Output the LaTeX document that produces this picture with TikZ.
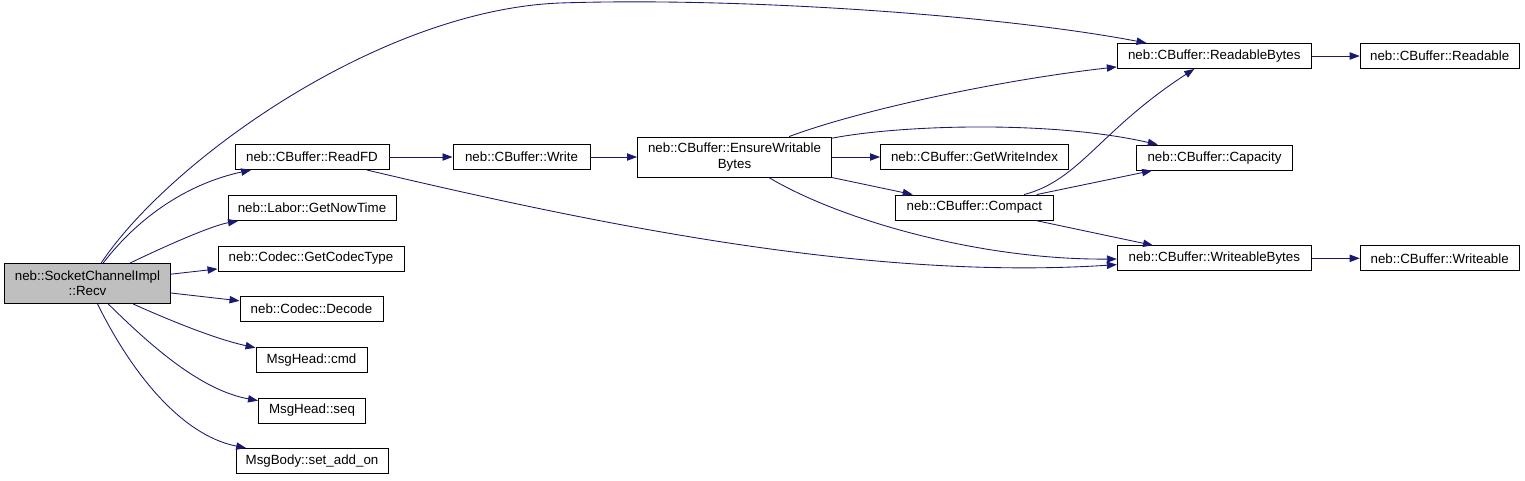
\documentclass[tikz,border=0pt]{standalone}
\usepackage{fontspec}
\setmainfont{Liberation Sans}
\usetikzlibrary{arrows.meta}
\definecolor{edgeblue}{HTML}{191970}
\definecolor{rootgray}{HTML}{BFBFBF}

\begin{document}
\begin{tikzpicture}[x=0.75pt, y=-0.75pt,
  fn/.style={rectangle, draw=black, line width=0.7pt, minimum height=18.75pt,
    inner sep=1pt, align=center, font=\fontsize{10}{11.5}\selectfont},
  call/.style={draw=edgeblue, line width=0.65pt,
    -{Triangle[length=7.5pt, width=5.5pt]}}]
\useasboundingbox (0,0) rectangle (1525,480);

\node (recv) [fn, fill=rootgray, minimum width=124.5pt, minimum height=30pt] at (87.5,283.5) {neb::SocketChannelImpl\\::Recv};
\node (readfd) [fn, minimum width=115.5pt] at (312,157) {neb::CBuffer::ReadFD};
\node (nowtime) [fn, minimum width=126pt] at (312,208) {neb::Labor::GetNowTime};
\node (codectype) [fn, minimum width=139.5pt] at (311,258.5) {neb::Codec::GetCodecType};
\node (decode) [fn, minimum width=107.25pt] at (311.5,309) {neb::Codec::Decode};
\node (cmd) [fn, minimum width=83.25pt] at (311.5,360) {MsgHead::cmd};
\node (seq) [fn, minimum width=80.25pt] at (312,410.5) {MsgHead::seq};
\node (addon) [fn, minimum width=114pt] at (312,461) {MsgBody::set\_add\_on};
\node (write) [fn, minimum width=102.75pt] at (521.5,157) {neb::CBuffer::Write};
\node (ensure) [fn, minimum width=145.5pt, minimum height=30pt] at (734.5,157) {neb::CBuffer::EnsureWritable\\Bytes};
\node (windex) [fn, minimum width=141pt] at (974.5,157) {neb::CBuffer::GetWriteIndex};
\node (compact) [fn, minimum width=118.5pt] at (974.3,207.5) {neb::CBuffer::Compact};
\node (rbytes) [fn, minimum width=145.5pt] at (1214.3,56) {neb::CBuffer::ReadableBytes};
\node (readable) [fn, minimum width=119.25pt] at (1439.7,56) {neb::CBuffer::Readable};
\node (capacity) [fn, minimum width=117pt] at (1214.5,157.6) {neb::CBuffer::Capacity};
\node (wbytes) [fn, minimum width=145.5pt] at (1214.3,258.3) {neb::CBuffer::WriteableBytes};
\node (writeable) [fn, minimum width=119.25pt] at (1439.7,258.3) {neb::CBuffer::Writeable};
\coordinate (arc) at (560,3);

\draw [call] (recv) .. controls (170,160) and (380,10) .. (arc) .. controls (740,-3) and (1000,15) .. (rbytes);
\draw [call] (recv) .. controls (140,215) and (190,183) .. (readfd);
\draw [call] (recv) .. controls (178,240) and (215,225) .. (nowtime);
\draw [call] (recv) -- (codectype);
\draw [call] (recv) -- (decode);
\draw [call] (recv) .. controls (180,325) and (220,340) .. (cmd);
\draw [call] (recv) .. controls (150,345) and (200,390) .. (seq);
\draw [call] (recv) .. controls (130,370) and (180,435) .. (addon);
\draw [call] (readfd) -- (write);
\draw [call] (readfd) .. controls (620,230) and (880,280) .. (wbytes);
\draw [call] (write) -- (ensure);
\draw [call] (ensure) .. controls (860,110) and (1000,80) .. (rbytes);
\draw [call] (ensure) .. controls (900,125) and (1050,120) .. (capacity);
\draw [call] (ensure) -- (windex);
\draw [call] (ensure) -- (compact);
\draw [call] (ensure) .. controls (840,220) and (980,260) .. (wbytes);
\draw [call] (compact) .. controls (1080,180) and (1100,130) .. (rbytes);
\draw [call] (compact) -- (capacity);
\draw [call] (compact) -- (wbytes);
\draw [call] (rbytes) -- (readable);
\draw [call] (wbytes) -- (writeable);
\end{tikzpicture}
\end{document}
